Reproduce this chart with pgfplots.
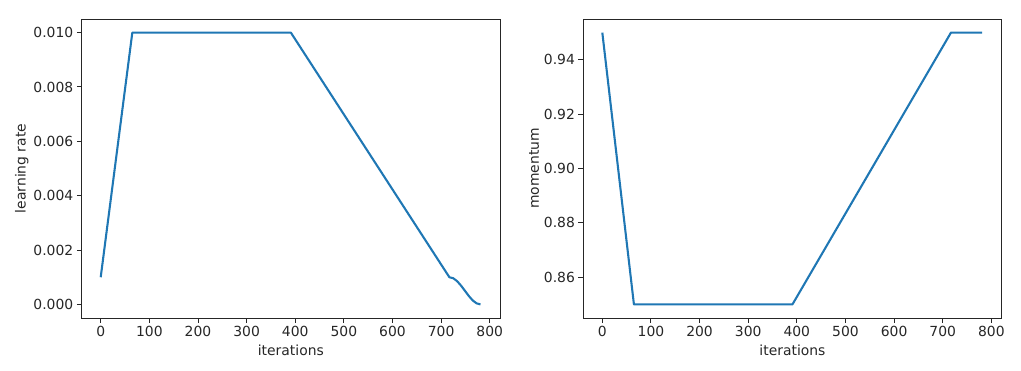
\documentclass[border=0pt]{standalone}
\usepackage{fontspec}
\setmainfont{DejaVu Sans}
\usepackage{pgfplots}
\pgfplotsset{compat=1.18}
\definecolor{mplblue}{HTML}{1F77B4}
\definecolor{txt}{HTML}{262626}
\pgfplotsset{
  myax/.style={
    scale only axis, width=418.3pt, height=299pt,
    axis line style={line width=0.9pt, black!85},
    tick align=outside, tick pos=left,
    major tick length=4.9pt,
    every tick/.style={black!85, line width=0.9pt},
    tick label style={font=\fontsize{13.9}{16}\selectfont, text=txt},
    label style={font=\fontsize{13.9}{16}\selectfont, text=txt},
    /pgf/number format/assume math mode=true,
    xmin=-39.1, xmax=821.1,
    xtick={0,100,...,800},
    xlabel={iterations},
    xlabel style={yshift=-1pt},
    scaled y ticks=false,
  }
}
\begin{document}
\begin{tikzpicture}
\path[use as bounding box] (-81.7pt,-53pt) rectangle (939.3pt,318pt);
\begin{axis}[myax, at={(0pt,0pt)}, anchor=south west,
  ymin=-0.0005, ymax=0.0105,
  ytick={0,0.002,0.004,0.006,0.008,0.010},
  yticklabel style={/pgf/number format/.cd, fixed, fixed zerofill, precision=3},
  ylabel={learning rate}, ylabel style={yshift=-2pt}]
\addplot[mplblue, line width=2.08pt, line join=round] coordinates {
(0,0.001) (65,0.01) (391,0.01) (717,0.001)
(725,0.000962) (733,0.000854) (741,0.000691) (749,0.0005)
(757,0.000309) (765,0.000146) (773,0.000038) (781,0)
};
\end{axis}
\begin{axis}[myax, at={(501.6pt,0pt)}, anchor=south west,
  ymin=0.845, ymax=0.955,
  ytick={0.86,0.88,0.90,0.92,0.94},
  yticklabel style={/pgf/number format/.cd, fixed, fixed zerofill, precision=2},
  ylabel={momentum}, ylabel style={yshift=-2pt}]
\addplot[mplblue, line width=2.08pt, line join=round] coordinates {
(0,0.95) (65,0.85) (391,0.85) (717,0.95) (781,0.95)
};
\end{axis}
\end{tikzpicture}
\end{document}
